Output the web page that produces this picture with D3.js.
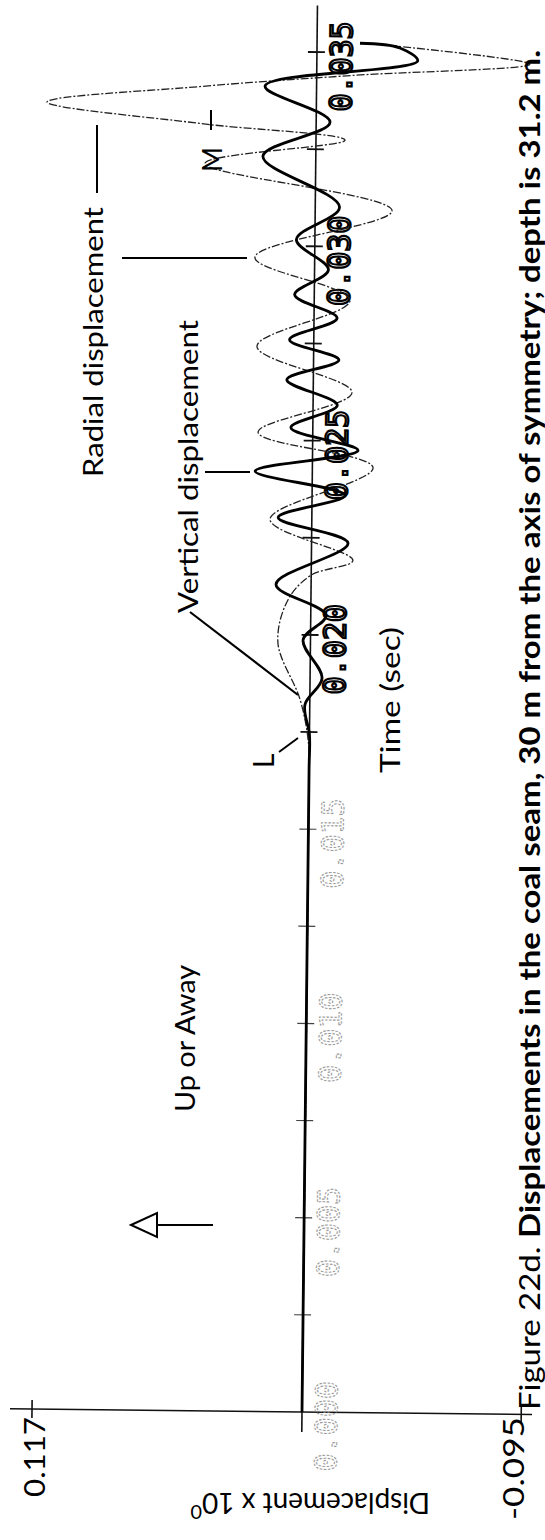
<!DOCTYPE html>
<html><head><meta charset="utf-8">
<script src="https://cdn.jsdelivr.net/npm/d3@7"></script>
<style>html,body{margin:0;padding:0;background:#fff;} svg{display:block;}</style>
</head><body>
<script>
// ---- data (time in s, displacement in units of 10^0) ----
const timeTicks = [0.0025,0.005,0.0075,0.010,0.0125,0.015,0.0175,0.020,0.0225,0.025,0.0275,0.030,0.0325,0.035];
const timeLabelValues = [0,0.005,0.010,0.015,0.020,0.025,0.030,0.035];
const timeLabels = ["0.000","0.005","0.010","0.015","0.020","0.025","0.030","0.035"];
const tracedLabels = ["0.020","0.025","0.030","0.035"];
const dispTickValues = [0.117,-0.095];
const dispTickLabels = ["0.117","-0.095"];

const verticalTime = [0,0.0165,0.01743,0.01820,0.01889,0.01987,0.02051,0.02129,0.02237,0.02301,0.02360,0.02420,0.02476,0.02533,0.02592,0.02656,0.02708,0.02759,0.02816,0.02875,0.02940,0.03017,0.03102,0.03230,0.03320,0.03411,0.03480,0.03513,0.03524];
const verticalDisp = [0,0,0,0.0021,-0.0052,0.0032,-0.0066,0.0152,-0.0158,0.0146,-0.0143,0.0248,-0.0197,0.0095,-0.0105,0.0115,-0.0110,0.0105,-0.0100,0.0085,-0.0060,0.0080,-0.0105,0.0229,-0.0060,0.0223,-0.0437,-0.0359,-0.0186];

const radialTime = [0,0.0160,0.01717,0.01833,0.01979,0.02090,0.02154,0.02193,0.02296,0.02432,0.02520,0.02625,0.02741,0.02862,0.02970,0.03094,0.03210,0.03274,0.03313,0.03364,0.03408,0.03441,0.03475,0.03519];
const radialDisp = [0,0,0.0003,0.0042,0.0141,0.0099,0.0000,-0.0180,0.0181,-0.0263,0.0237,-0.0168,0.0246,-0.0155,0.0259,-0.0333,0.0480,-0.0126,0.0503,0.1167,0.0505,-0.0157,-0.0923,-0.0316];

// ---- layout ----
const W = 545, H = 1540;
const svg = d3.select("body").append("svg").attr("width", W).attr("height", H);
svg.append("rect").attr("width", W).attr("height", H).attr("fill", "#fff");

const tScale = d3.scaleLinear().domain([0, 0.035]).range([1412, 52]);
const dScale = d3.scaleLinear().domain([0, 0.117]).range([302, 32]);
const x0 = dScale(0), y0 = tScale(0);

const plot = svg.append("g").attr("transform", `rotate(0.63,${x0},${y0})`);

// displacement axis (at t = 0)
plot.append("line").attr("x1", 10).attr("x2", 532).attr("y1", y0).attr("y2", y0)
  .attr("stroke", "#111").attr("stroke-width", 1.6);
dispTickValues.forEach(v => {
  plot.append("line").attr("x1", dScale(v)).attr("x2", dScale(v)).attr("y1", y0 - 9).attr("y2", y0 + 9)
    .attr("stroke", "#111").attr("stroke-width", 1.6);
});
// time axis (at displacement 0)
plot.append("line").attr("x1", x0).attr("x2", x0).attr("y1", y0 + 20).attr("y2", tScale(0.0362))
  .attr("stroke", "#111").attr("stroke-width", 1.6);
timeTicks.forEach(tv => {
  plot.append("line").attr("x1", x0 - 9).attr("x2", x0 + 8).attr("y1", tScale(tv)).attr("y2", tScale(tv))
    .attr("stroke", tv >= 0.0175 ? "#111" : "#444").attr("stroke-width", tv >= 0.0175 ? 1.8 : 1.2);
});
// time tick labels (plotter digits)
timeLabelValues.forEach((tv, i) => {
  const traced = tracedLabels.includes(timeLabels[i]);
  plot.append("text")
    .attr("transform", `translate(${x0 + 35},${tScale(tv) + 14}) rotate(-90)`)
    .attr("text-anchor", "middle")
    .attr("font-family", "DejaVu Sans Mono, monospace")
    .attr("font-size", 30)
    .attr("fill", traced ? "#fff" : "none")
    .attr("stroke", traced ? "#000" : "#9a9a9a")
    .attr("stroke-width", traced ? 2.2 : 1.1)
    .attr("stroke-dasharray", traced ? null : "2.5,1.5")
    .text(timeLabels[i]);
});

// curves
const line = d3.line().x(d => dScale(d[1])).y(d => tScale(d[0])).curve(d3.curveCatmullRom.alpha(0.5));
const radial = radialTime.map((t, i) => [t, radialDisp[i]]);
const vertical = verticalTime.map((t, i) => [t, verticalDisp[i]]);
plot.append("path").attr("d", line(radial)).attr("fill", "none")
  .attr("stroke", "#222").attr("stroke-width", 1.3).attr("stroke-dasharray", "8,2,2,2");
plot.append("path").attr("d", line(vertical)).attr("fill", "none")
  .attr("stroke", "#000").attr("stroke-width", 2.8).attr("stroke-linejoin", "round");

// ---- annotations ----
const FONT = "Lato, 'DejaVu Sans', sans-serif";
function vtext(x, y, str, size, len, weight) {
  const t = svg.append("text").attr("transform", `translate(${x},${y}) rotate(-90)`)
    .attr("font-family", FONT).attr("font-size", size).attr("fill", "#000")
    .attr("font-weight", weight || 400).text(str);
  if (len) t.attr("textLength", len).attr("lengthAdjust", "spacingAndGlyphs");
  return t;
}
function seg(x1, y1, x2, y2, w) {
  svg.append("line").attr("x1", x1).attr("y1", y1).attr("x2", x2).attr("y2", y2)
    .attr("stroke", "#000").attr("stroke-width", w || 2);
}

// displacement tick labels
vtext(dScale(dispTickValues[0]) + 13, 1497, dispTickLabels[0], 28, 80);
vtext(dScale(dispTickValues[1]) + 3, 1520, dispTickLabels[1], 28, 103);

// axis title (upside down)
const yt = svg.append("text").attr("transform", "translate(430,1493) rotate(180)")
  .attr("font-family", FONT).attr("font-size", 28).attr("fill", "#000");
yt.append("tspan").text("Displacement x 10");
yt.append("tspan").attr("font-size", 20).attr("dy", -12).text("0");

// time title
vtext(400, 773, "Time (sec)", 27, 146);

// legend labels
vtext(103, 477, "Radial displacement", 27, 270);
seg(97, 193, 97, 125, 2);
seg(122, 258, 247, 258, 2);
vtext(198, 613, "Vertical displacement", 27, 293);
seg(205, 472, 250, 472, 2);
seg(190, 612, 298, 695, 2.2);

// L and M markers
vtext(274, 768, "L", 28);
seg(279, 752, 298, 738, 2);
vtext(222, 172, "M", 27);
seg(211, 130, 211, 110, 2);

// up/away arrow
svg.append("path").attr("d", "M131,1225 L157,1213 L157,1237 Z").attr("fill", "none")
  .attr("stroke", "#000").attr("stroke-width", 2);
seg(157, 1225, 213, 1225, 2);
vtext(195, 1112, "Up or Away", 27, 147);

// caption
const cap = svg.append("text").attr("transform", "translate(540,1410) rotate(-90)")
  .attr("font-family", FONT).attr("font-size", 29).attr("fill", "#000")
  .attr("textLength", 1360).attr("lengthAdjust", "spacingAndGlyphs");
cap.append("tspan").attr("font-weight", 400).text("Figure 22d.  ");
cap.append("tspan").attr("font-weight", 700).text("Displacements in the coal seam, 30 m from the axis of symmetry; depth is 31.2 m.");
</script>
</body></html>
